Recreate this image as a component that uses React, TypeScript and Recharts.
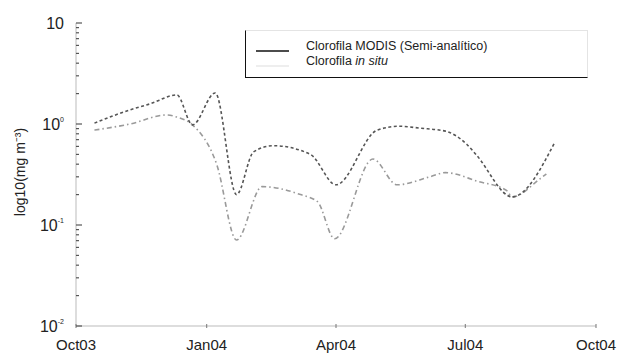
import React from 'react';
import { LineChart, Line, XAxis, YAxis } from 'recharts';

// days counted from 1 Oct 2003
const dayTicks = [0, 92, 183, 274, 366];
const dayLabels = ['Oct03', 'Jan04', 'Apr04', 'Jul04', 'Oct04'];

const yMajorTicks = [0.01, 0.1, 1, 10];
const yMinorTicks = [
  0.02, 0.03, 0.04, 0.05, 0.06, 0.07, 0.08, 0.09,
  0.2, 0.3, 0.4, 0.5, 0.6, 0.7, 0.8, 0.9,
  2, 3, 4, 5, 6, 7, 8, 9,
];

const modisDays = [13, 38, 52, 71, 82, 98, 113, 125, 139, 165, 183, 212, 228, 242, 260, 275, 282, 307, 337];
const modisValues = [1.02, 1.38, 1.58, 1.94, 0.98, 2.03, 0.2, 0.53, 0.61, 0.5, 0.25, 0.87, 0.95, 0.91, 0.85, 0.63, 0.49, 0.19, 0.66];

const insituDays = [13, 38, 64, 71, 82, 99, 113, 131, 158, 170, 182, 209, 226, 249, 260, 283, 303, 307, 327, 331];
const insituValues = [0.87, 1.0, 1.23, 1.17, 0.98, 0.4, 0.071, 0.24, 0.2, 0.17, 0.073, 0.45, 0.25, 0.3, 0.33, 0.27, 0.22, 0.19, 0.29, 0.32];

const modisData = modisDays.map((d, i) => ({ day: d, v: modisValues[i] }));
const insituData = insituDays.map((d, i) => ({ day: d, v: insituValues[i] }));

const font = '"Liberation Sans", Arial, sans-serif';

const LeftTick = (props: any) => {
  const { x, y, payload } = props;
  const isMajor = yMajorTicks.includes(payload.value);
  if (!isMajor) {
    return <line x1={x} x2={x + 3} y1={y} y2={y} stroke="#555" strokeWidth={1.2} />;
  }
  const exp = Math.round(Math.log10(payload.value));
  return (
    <g>
      <line x1={x} x2={x + 6} y1={y} y2={y} stroke="#555" strokeWidth={1.2} />
      <text x={x - 12} y={y + 6} textAnchor="end" fontSize={16} fill="#222" fontFamily={font}>
        10<tspan dy={-8} fontSize={7}>{exp === 1 ? '' : exp}</tspan>
      </text>
    </g>
  );
};

const RightTick = (props: any) => {
  const { x, y, payload } = props;
  const len = yMajorTicks.includes(payload.value) ? 5 : 3;
  return <line x1={x - len} x2={x} y1={y} y2={y} stroke="#bbb" strokeWidth={1} />;
};

const XTick = (props: any) => {
  const { x, y, payload } = props;
  const idx = dayTicks.indexOf(payload.value);
  return (
    <g>
      <line x1={x} x2={x} y1={y - 4} y2={y} stroke="#777" />
      <text x={x} y={y + 22} textAnchor="middle" fontSize={15} fill="#222" fontFamily={font}>
        {dayLabels[idx]}
      </text>
    </g>
  );
};

const YLabel = () => (
  <text
    x={20}
    y={172}
    transform="rotate(-90 20 172)"
    textAnchor="middle"
    dominantBaseline="central"
    fontSize={14}
    fill="#222"
    fontFamily={font}
  >
    log10(mg m⁻³)
  </text>
);

const LegendBox = () => (
  <div
    style={{
      position: 'absolute',
      left: 245,
      top: 30,
      width: 343,
      height: 48,
      borderLeft: '1.5px solid #111',
      borderBottom: '1.5px solid #111',
      borderTop: '1px solid #e4e4e4',
      borderRight: '1px solid #e4e4e4',
      fontFamily: font,
      fontSize: 12.5,
      color: '#222',
      boxSizing: 'border-box',
      background: '#fff',
    }}
  >
    <svg width={40} height={40} style={{ position: 'absolute', left: 8, top: 6 }}>
      <line x1={2} x2={35} y1={14} y2={14} stroke="#111" strokeWidth={1.3} />
      <line x1={2} x2={35} y1={29} y2={29} stroke="#e8e8e8" strokeWidth={1.3} />
    </svg>
    <div style={{ position: 'absolute', left: 60, top: 8, lineHeight: '15px', whiteSpace: 'nowrap' }}>
      <div>Clorofila MODIS (Semi-analítico)</div>
      <div>
        Clorofila <i>in situ</i>
      </div>
    </div>
  </div>
);

export default function App() {
  return (
    <div style={{ position: 'absolute', left: 0, top: 0, width: 621, height: 355, background: '#fff' }}>
      <LineChart width={621} height={355} margin={{ top: 23, right: 25, bottom: 5, left: 30 }}>
        <XAxis
          dataKey="day"
          type="number"
          domain={[0, 366]}
          ticks={dayTicks}
          tick={<XTick />}
          tickLine={false}
          tickSize={0}
          axisLine={{ stroke: '#bbb' }}
          height={24}
          allowDuplicatedCategory={false}
        />
        <XAxis xAxisId="top" orientation="top" type="number" domain={[0, 366]} tick={false} axisLine={{ stroke: '#ddd' }} height={0} />
        <YAxis
          scale="log"
          domain={[0.01, 10]}
          ticks={[...yMajorTicks, ...yMinorTicks]}
          tick={<LeftTick />}
          tickLine={false}
          tickSize={0}
          tickMargin={0}
          axisLine={{ stroke: '#bbb' }}
          width={46}
          interval={0}
          allowDataOverflow
          label={<YLabel />}
        />
        <YAxis
          yAxisId="right"
          orientation="right"
          scale="log"
          domain={[0.01, 10]}
          ticks={[...yMajorTicks, ...yMinorTicks]}
          tick={<RightTick />}
          tickLine={false}
          tickSize={0}
          tickMargin={0}
          axisLine={{ stroke: '#111', strokeWidth: 2.5 }}
          width={0}
          interval={0}
          allowDataOverflow
        />
        <Line
          data={insituData}
          dataKey="v"
          type="monotone"
          stroke="#9a9a9a"
          strokeWidth={1.6}
          strokeDasharray="5 3 1.5 3"
          dot={false}
          isAnimationActive={false}
        />
        <Line
          data={modisData}
          dataKey="v"
          type="monotone"
          stroke="#555"
          strokeWidth={1.6}
          strokeDasharray="3 2.5"
          dot={false}
          isAnimationActive={false}
        />
      </LineChart>
      <LegendBox />
    </div>
  );
}
